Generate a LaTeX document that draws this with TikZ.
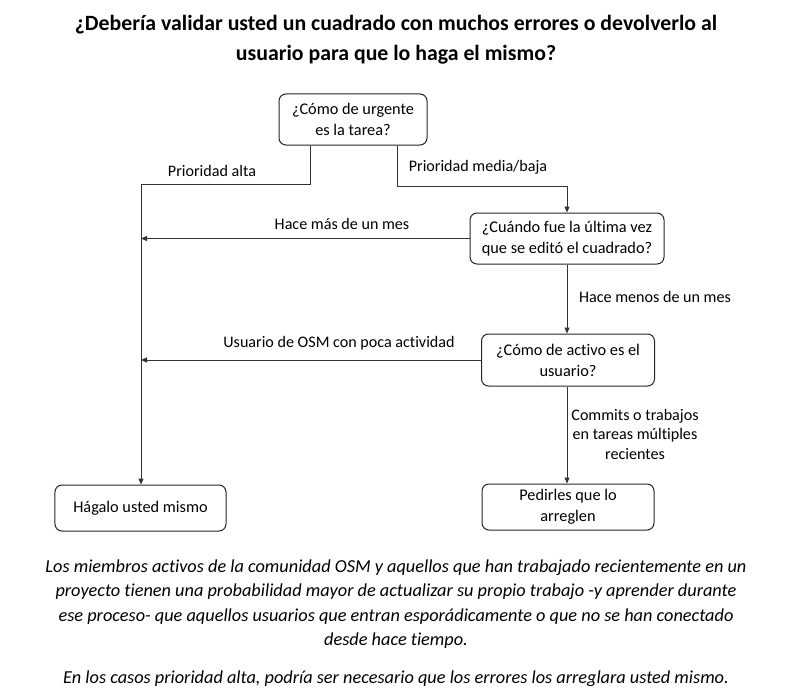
\documentclass[tikz,border=0pt]{standalone}
\usepackage{fontspec}
\setmainfont{Carlito}[Ligatures={NoCommon}]
\usetikzlibrary{arrows.meta}
\begin{document}
\begin{tikzpicture}[x=1bp,y=-1bp,
  box/.style={draw=black!85,line width=1bp,rounded corners=7bp,align=center,inner sep=0pt,
    font=\fontsize{16.3bp}{21bp}\selectfont},
  conn/.style={draw=black!80,line width=1bp},
  arr/.style={conn,-{Triangle[length=6bp,width=5bp]}},
  lbl/.style={font=\fontsize{16.1bp}{19.5bp}\selectfont,inner sep=0pt,align=center}]
\useasboundingbox[fill=white] (0,0) rectangle (793,699);
\node[font=\bfseries\fontsize{21.8bp}{30bp}\selectfont,align=center,inner sep=0pt] (title) at (396,40)
  {¿Debería validar usted un cuadrado con muchos errores o devolverlo al\\usuario para que lo haga el mismo?};
\node[box,minimum width=148bp,minimum height=51bp] (b1) at (353,119.5) {¿Cómo de urgente\\es la tarea?};
\node[box,minimum width=194bp,minimum height=51bp] (b2) at (567,238.5) {¿Cuándo fue la última vez\\que se editó el cuadrado?};
\node[box,minimum width=173bp,minimum height=52bp] (b3) at (568,360) {¿Cómo de activo es el\\usuario?};
\node[box,minimum width=171bp,minimum height=46bp] (b4) at (140.5,508) {Hágalo usted mismo};
\node[box,minimum width=172bp,minimum height=46bp] (b5) at (568,507) {Pedirles que lo\\arreglen};
\coordinate (j1) at (141,184);
\coordinate (j2) at (567,186);
\draw[arr] ([xshift=-43bp]b1.south) |- (j1) -- (b4.north -| j1);
\draw[arr] ([xshift=44bp]b1.south) |- (j2) -- (b2.north);
\draw[arr] (b2.west) -- (b2.west -| j1);
\draw[arr] (b2.south) -- (b3.north -| b2.south);
\draw[arr] (b3.west) -- (b3.west -| j1);
\draw[arr] (b3.south -| b2.south) -- (b5.north -| b2.south);
\node[lbl] (l1) at (212,171) {Prioridad alta};
\node[lbl] (l2) at (478,167) {Prioridad media/baja};
\node[lbl] (l3) at (342,224) {Hace más de un mes};
\node[lbl] (l4) at (655,297) {Hace menos de un mes};
\node[lbl] (l5) at (339,343) {Usuario de OSM con poca actividad};
\node[lbl] (l6) at (635,434) {Commits o trabajos\\en tareas múltiples\\recientes};
\node[font=\itshape\fontsize{18.3bp}{24.5bp}\selectfont,align=center,inner sep=0pt] (t1) at (396,604)
  {Los miembros activos de la comunidad OSM y aquellos que han trabajado recientemente en un\\
   proyecto tienen una probabilidad mayor de actualizar su propio trabajo -y aprender durante\\
   ese proceso- que aquellos usuarios que entran esporádicamente o que no se han conectado\\
   desde hace tiempo.};
\node[font=\itshape\fontsize{18.3bp}{24.5bp}\selectfont,inner sep=0pt] (t2) at (396,679)
  {En los casos prioridad alta, podría ser necesario que los errores los arreglara usted mismo.};
\end{tikzpicture}
\end{document}
